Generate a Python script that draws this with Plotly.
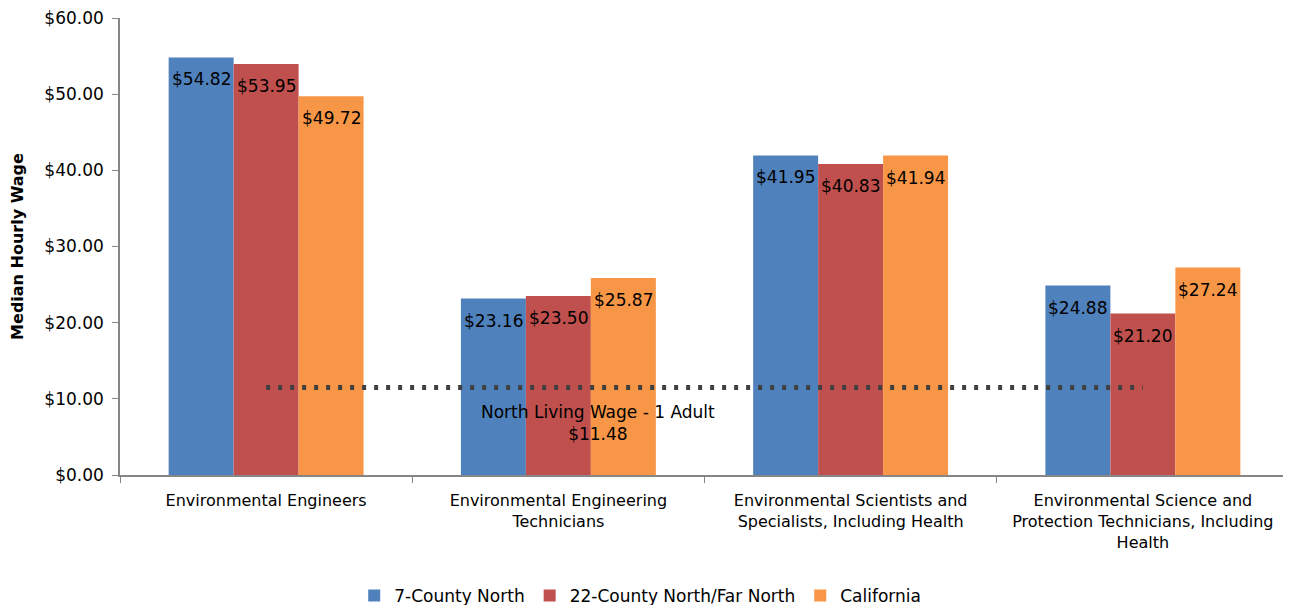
import plotly.graph_objects as go

categories = [
    "Environmental Engineers",
    "Environmental Engineering<br>Technicians",
    "Environmental Scientists and<br>Specialists, Including Health",
    "Environmental Science and<br>Protection Technicians, Including<br>Health",
]
series_names = ["7-County North", "22-County North/Far North", "California"]
county7 = [54.82, 23.16, 41.95, 24.88]
county22 = [53.95, 23.50, 40.83, 21.20]
california = [49.72, 25.87, 41.94, 27.24]
living_wage = 11.48
living_wage_label = "North Living Wage - 1 Adult"

colors = ["#4F81BD", "#C0504D", "#F79646"]
FONT = "DejaVu Sans, sans-serif"
BARGAP = 0.333

fig = go.Figure()
all_series = [county7, county22, california]
for name, vals, col in zip(series_names, all_series, colors):
    fig.add_trace(go.Bar(
        x=categories, y=vals, name=name,
        marker=dict(color=col, line=dict(width=0)),
    ))

# data labels inside the top of each bar
bw = (1 - BARGAP) / len(all_series)
for si, vals in enumerate(all_series):
    off = (si - (len(all_series) - 1) / 2) * bw
    for ci, v in enumerate(vals):
        fig.add_annotation(
            x=ci + off, y=v, xref="x", yref="y",
            text=f"${v:.2f}", showarrow=False,
            yanchor="middle", yshift=-22,
            font=dict(size=17, color="black", family=FONT),
        )

fig.add_trace(go.Scatter(
    x=categories, y=[living_wage] * len(categories),
    mode="lines", showlegend=False,
    line=dict(color="#404040", width=5, dash="4px,8px"),
    hoverinfo="skip",
))

fig.add_annotation(
    x=1.137, y=living_wage, xref="x", yref="y",
    text=f"{living_wage_label}<br>${living_wage:.2f}",
    showarrow=False, yanchor="top", yshift=-12,
    font=dict(size=17, color="black", family=FONT),
)

fig.update_layout(
    width=1283, height=597,
    margin=dict(l=112, r=2, t=10, b=130, autoexpand=False),
    paper_bgcolor="white", plot_bgcolor="white",
    barmode="group", bargap=BARGAP, bargroupgap=0,
    font=dict(family=FONT, size=16, color="black"),
    legend=dict(orientation="h", x=0.445, xanchor="center", y=-0.225, yanchor="top",
                font=dict(size=17), itemwidth=30, traceorder="normal"),
    showlegend=True,
)
fig.update_yaxes(
    range=[0, 60], dtick=10, tickformat="$.2f", automargin=False,
    showgrid=False, showline=True, linecolor="#868686", linewidth=1.5,
    ticks="outside", ticklen=6, tickcolor="#868686", ticklabelstandoff=5,
    ticklabeloverflow="allow",
    tickfont=dict(size=17), zeroline=False,
    title=dict(text="<b>Median Hourly Wage</b>", font=dict(size=16), standoff=17),
)
fig.update_xaxes(
    showgrid=False, showline=True, linecolor="#868686", linewidth=1.5, automargin=False,
    ticks="outside", ticklen=6, tickcolor="#868686", tickson="boundaries",
    ticklabelstandoff=10, ticklabeloverflow="allow",
    tickfont=dict(size=16),
)

fig.write_html("out.html")
